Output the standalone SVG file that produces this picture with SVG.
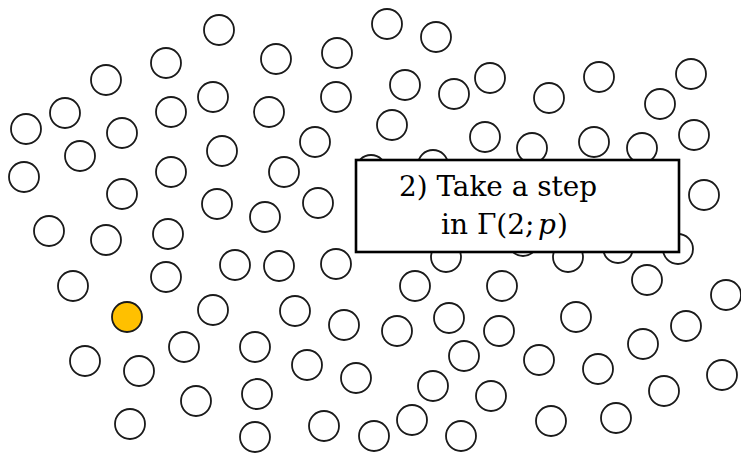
<svg xmlns="http://www.w3.org/2000/svg" width="741" height="454" viewBox="0 0 741 454">
<style>
.n{fill:#fff;stroke:#1a1a1a;stroke-width:1.8}
.sel{fill:#FFC000;stroke:#1a1a1a;stroke-width:1.8}
.box{fill:#fff;stroke:#000;stroke-width:2.6}
.t{font-family:'DejaVu Serif',serif;font-size:28px;fill:#000}
.i{font-style:italic}
</style>
<rect width="741" height="454" fill="#fff"/>
<g id="nodes">
<circle class="n" cx="219" cy="30" r="15"/>
<circle class="n" cx="166" cy="63" r="15"/>
<circle class="n" cx="106" cy="80" r="15"/>
<circle class="n" cx="213" cy="97" r="15"/>
<circle class="n" cx="65" cy="113" r="15"/>
<circle class="n" cx="171" cy="112" r="15"/>
<circle class="n" cx="26" cy="129" r="15"/>
<circle class="n" cx="122" cy="133" r="15"/>
<circle class="n" cx="222" cy="151" r="15"/>
<circle class="n" cx="80" cy="156" r="15"/>
<circle class="n" cx="24" cy="177" r="15"/>
<circle class="n" cx="171" cy="172" r="15"/>
<circle class="n" cx="122" cy="194" r="15"/>
<circle class="n" cx="217" cy="204" r="15"/>
<circle class="n" cx="49" cy="231" r="15"/>
<circle class="n" cx="106" cy="240" r="15"/>
<circle class="n" cx="168" cy="234" r="15"/>
<circle class="n" cx="387" cy="24" r="15"/>
<circle class="n" cx="436" cy="37" r="15"/>
<circle class="n" cx="276" cy="59" r="15"/>
<circle class="n" cx="337" cy="53" r="15"/>
<circle class="n" cx="405" cy="85" r="15"/>
<circle class="n" cx="336" cy="97" r="15"/>
<circle class="n" cx="454" cy="94" r="15"/>
<circle class="n" cx="269" cy="112" r="15"/>
<circle class="n" cx="392" cy="125" r="15"/>
<circle class="n" cx="315" cy="142" r="15"/>
<circle class="n" cx="284" cy="172" r="15"/>
<circle class="n" cx="318" cy="203" r="15"/>
<circle class="n" cx="265" cy="217" r="15"/>
<circle class="n" cx="490" cy="78" r="15"/>
<circle class="n" cx="485" cy="137" r="15"/>
<circle class="n" cx="549" cy="98" r="15"/>
<circle class="n" cx="599" cy="77" r="15"/>
<circle class="n" cx="691" cy="74" r="15"/>
<circle class="n" cx="660" cy="104" r="15"/>
<circle class="n" cx="594" cy="142" r="15"/>
<circle class="n" cx="704" cy="195" r="15"/>
<circle class="n" cx="694" cy="135" r="15"/>
<circle class="n" cx="371" cy="170" r="15"/>
<circle class="n" cx="433" cy="165" r="15"/>
<circle class="n" cx="532" cy="148" r="15"/>
<circle class="n" cx="642" cy="148" r="15"/>
<circle class="n" cx="446" cy="257" r="15"/>
<circle class="n" cx="523" cy="241" r="15"/>
<circle class="n" cx="568" cy="257" r="15"/>
<circle class="n" cx="618" cy="248" r="15"/>
<circle class="n" cx="678" cy="249" r="15"/>
<circle class="n" cx="235" cy="265" r="15"/>
<circle class="n" cx="73" cy="286" r="15"/>
<circle class="n" cx="166" cy="277" r="15"/>
<circle class="n" cx="213" cy="310" r="15"/>
<circle class="n" cx="85" cy="361" r="15"/>
<circle class="n" cx="139" cy="371" r="15"/>
<circle class="n" cx="184" cy="347" r="15"/>
<circle class="n" cx="255" cy="347" r="15"/>
<circle class="n" cx="196" cy="401" r="15"/>
<circle class="n" cx="257" cy="394" r="15"/>
<circle class="n" cx="130" cy="424" r="15"/>
<circle class="n" cx="255" cy="437" r="15"/>
<circle class="n" cx="279" cy="266" r="15"/>
<circle class="n" cx="336" cy="264" r="15"/>
<circle class="n" cx="415" cy="286" r="15"/>
<circle class="n" cx="502" cy="286" r="15"/>
<circle class="n" cx="295" cy="311" r="15"/>
<circle class="n" cx="344" cy="325" r="15"/>
<circle class="n" cx="397" cy="331" r="15"/>
<circle class="n" cx="449" cy="318" r="15"/>
<circle class="n" cx="499" cy="331" r="15"/>
<circle class="n" cx="307" cy="365" r="15"/>
<circle class="n" cx="356" cy="378" r="15"/>
<circle class="n" cx="464" cy="356" r="15"/>
<circle class="n" cx="433" cy="386" r="15"/>
<circle class="n" cx="491" cy="396" r="15"/>
<circle class="n" cx="324" cy="426" r="15"/>
<circle class="n" cx="374" cy="436" r="15"/>
<circle class="n" cx="412" cy="420" r="15"/>
<circle class="n" cx="461" cy="436" r="15"/>
<circle class="n" cx="647" cy="280" r="15"/>
<circle class="n" cx="726" cy="295" r="15"/>
<circle class="n" cx="576" cy="317" r="15"/>
<circle class="n" cx="686" cy="326" r="15"/>
<circle class="n" cx="643" cy="344" r="15"/>
<circle class="n" cx="539" cy="360" r="15"/>
<circle class="n" cx="598" cy="369" r="15"/>
<circle class="n" cx="722" cy="375" r="15"/>
<circle class="n" cx="664" cy="391" r="15"/>
<circle class="n" cx="551" cy="421" r="15"/>
<circle class="n" cx="616" cy="418" r="15"/>
</g>
<g id="current">
<circle class="sel" cx="127" cy="317" r="15"/>
</g>
<g id="label">
<rect class="box" x="356" y="160" width="323" height="92"/>
<text class="t" x="441" y="234">in Γ(2;</text>
<text class="t i" x="538" y="234">p</text>
<text class="t" x="557" y="234">)</text>
<text class="t" x="399" y="196" textLength="198" lengthAdjust="spacingAndGlyphs">2) Take a step</text>
</g>
</svg>
